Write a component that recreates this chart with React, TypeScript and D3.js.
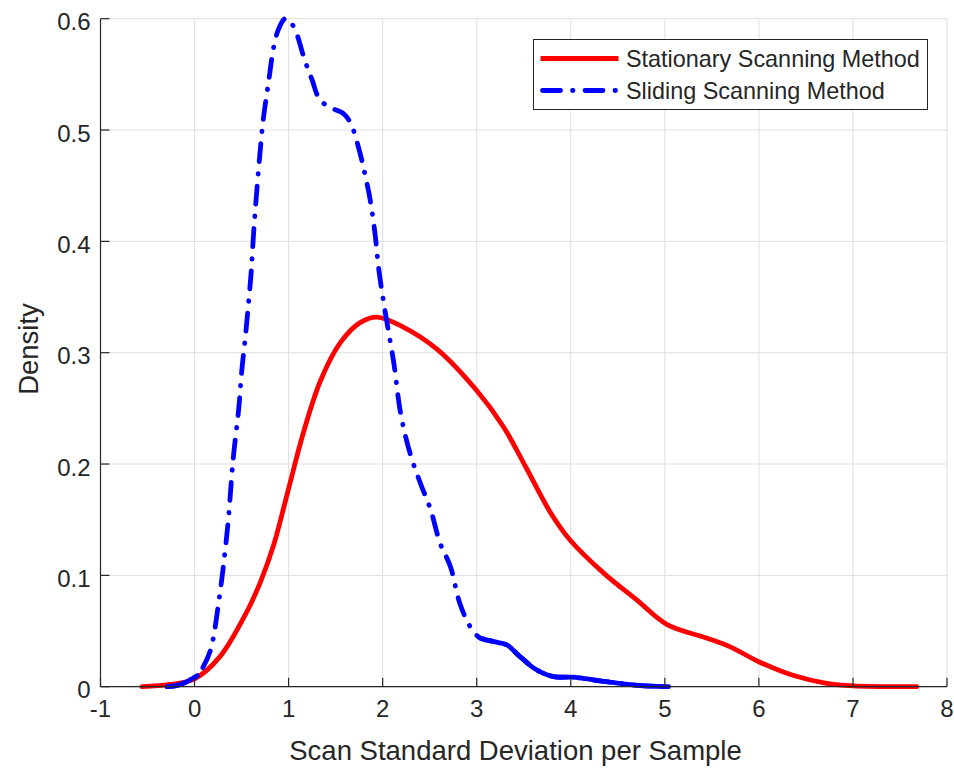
import React from "react";
import * as d3 from "d3";

// Kernel density estimates of scan standard deviation per sample
const stationaryX = [-0.56, -0.26, 0, 0.27, 0.56, 0.7, 0.84, 1.0, 1.16, 1.34, 1.55, 1.76, 1.94, 2.22, 2.58, 3.0, 3.28, 3.53, 3.78, 3.99, 4.35, 4.7, 5.02, 5.45, 5.69, 6.01, 6.37, 6.72, 7.0, 7.68];
const stationaryY = [0, 0.002, 0.007, 0.027, 0.068, 0.094, 0.127, 0.178, 0.229, 0.275, 0.309, 0.327, 0.332, 0.323, 0.303, 0.266, 0.234, 0.196, 0.157, 0.132, 0.102, 0.078, 0.056, 0.0435, 0.036, 0.022, 0.01, 0.003, 0.0007, 0];

const slidingX = [-0.29, -0.15, 0.03, 0.08, 0.17, 0.26, 0.31, 0.36, 0.41, 0.47, 0.5, 0.54, 0.57, 0.6, 0.63, 0.68, 0.73, 0.79, 0.84, 0.89, 0.96, 1.0, 1.07, 1.17, 1.25, 1.32, 1.42, 1.58, 1.66, 1.76, 1.81, 1.87, 1.92, 1.96, 2.03, 2.12, 2.19, 2.29, 2.4, 2.51, 2.61, 2.72, 2.82, 2.93, 3.04, 3.21, 3.32, 3.46, 3.64, 3.82, 4.03, 4.38, 4.74, 5.04];
const slidingY = [0, 0.002, 0.01, 0.016, 0.033, 0.078, 0.111, 0.151, 0.204, 0.25, 0.282, 0.314, 0.341, 0.37, 0.41, 0.464, 0.509, 0.545, 0.574, 0.59, 0.6, 0.599, 0.59, 0.563, 0.545, 0.529, 0.521, 0.515, 0.506, 0.479, 0.461, 0.436, 0.406, 0.374, 0.335, 0.29, 0.246, 0.21, 0.183, 0.159, 0.129, 0.108, 0.075, 0.054, 0.0435, 0.04, 0.0375, 0.027, 0.015, 0.009, 0.0085, 0.0045, 0.001, 0];

const xTicks = [-1, 0, 1, 2, 3, 4, 5, 6, 7, 8];
const yTicks = [0, 0.1, 0.2, 0.3, 0.4, 0.5, 0.6];

const seriesNames = ["Stationary Scanning Method", "Sliding Scanning Method"];
const xLabel = "Scan Standard Deviation per Sample";
const yLabel = "Density";

const W = 954;
const H = 771;
const plot = { left: 100.5, right: 947, top: 18.7, bottom: 686.7 };

const FONT = "'Liberation Sans', Arial, Helvetica, sans-serif";
const TEXT = "#262626";
const GRID = "#dfdfdf";
const RED = "#ff0000";
const BLUE = "#0000ff";
const LW = 4.8;
const DASHDOT = "18 12 0.5 12";
// the sliding curve is drawn densely (nearly solid) where its samples crowd together
const denseBelow = 0.06;
const denseAbove = 3.02;

export default function App() {
  const x = d3.scaleLinear().domain([-1, 8]).range([plot.left, plot.right]);
  const y = d3.scaleLinear().domain([0, 0.6]).range([plot.bottom, plot.top]);

  const line = d3
    .line<[number, number]>()
    .x((d) => x(d[0]))
    .y((d) => y(d[1]))
    .curve(d3.curveCatmullRom.alpha(0.5));

  const stationary: [number, number][] = stationaryX.map((v, i) => [v, stationaryY[i]]);
  const sliding: [number, number][] = slidingX.map((v, i) => [v, slidingY[i]]);
  const slidingHead = sliding.filter((d) => d[0] <= denseBelow);
  const slidingTail = sliding.filter((d) => d[0] >= denseAbove);

  const legX = 533.5;
  const legY = 39.5;
  const legW = 394;
  const legH = 70;

  return (
    <svg
      width={W}
      height={H}
      style={{ position: "absolute", left: 0, top: 0, background: "#fff" }}
      fontFamily={FONT}
    >
      <rect x={0} y={0} width={W} height={H} fill="#fff" />
      {/* grid */}
      <g stroke={GRID} strokeWidth={1}>
        {xTicks.map((t) => (
          <line key={"gx" + t} x1={x(t)} x2={x(t)} y1={plot.top} y2={plot.bottom} />
        ))}
        {yTicks.map((t) => (
          <line key={"gy" + t} x1={plot.left} x2={plot.right} y1={y(t)} y2={y(t)} />
        ))}
      </g>

      {/* curves */}
      <path d={line(stationary) || ""} fill="none" stroke={RED} strokeWidth={LW} strokeLinejoin="round" strokeLinecap="round" />
      <path d={line(sliding) || ""} fill="none" stroke={BLUE} strokeWidth={LW} strokeDasharray={DASHDOT} strokeLinecap="round" />
      <path d={line(slidingHead) || ""} fill="none" stroke={BLUE} strokeWidth={LW} strokeLinecap="round" strokeDasharray="3 1.5" />
      <path d={line(slidingTail) || ""} fill="none" stroke={BLUE} strokeWidth={LW} strokeLinecap="round" strokeDasharray="3 1.5" />

      {/* axes */}
      <g stroke={TEXT} strokeWidth={1.2} fill="none">
        <line x1={plot.left} x2={plot.left} y1={plot.top} y2={plot.bottom} />
        <line x1={plot.left} x2={plot.right} y1={plot.bottom} y2={plot.bottom} />
        {xTicks.map((t) => (
          <line key={"tx" + t} x1={x(t)} x2={x(t)} y1={plot.bottom} y2={plot.bottom - 9} />
        ))}
        {yTicks.map((t) => (
          <line key={"ty" + t} x1={plot.left} x2={plot.left + 9} y1={y(t)} y2={y(t)} />
        ))}
      </g>

      <g fill={TEXT} fontSize={24}>
        {xTicks.map((t) => (
          <text key={"lx" + t} x={x(t)} y={plot.bottom + 30} textAnchor="middle">
            {String(t)}
          </text>
        ))}
        {yTicks.map((t) => (
          <text key={"ly" + t} x={plot.left - 10} y={y(t) + 11.5} textAnchor="end">
            {String(t)}
          </text>
        ))}
      </g>

      <text x={515.5} y={760} textAnchor="middle" fontSize={27.5} fill={TEXT}>
        {xLabel}
      </text>
      <text
        transform={`translate(38,349) rotate(-90)`}
        textAnchor="middle"
        fontSize={27.5}
        fill={TEXT}
      >
        {yLabel}
      </text>

      {/* legend */}
      <rect x={legX} y={legY} width={legW} height={legH} fill="#fff" stroke={TEXT} strokeWidth={1} />
      <line x1={legX + 7} x2={legX + 85} y1={legY + 19} y2={legY + 19} stroke={RED} strokeWidth={LW} />
      <line x1={legX + 9} x2={legX + 83} y1={legY + 51} y2={legY + 51} stroke={BLUE} strokeWidth={LW} strokeDasharray={DASHDOT} strokeLinecap="round" />
      <text x={legX + 92.5} y={legY + 27.2} fontSize={23.4} fill={TEXT}>
        {seriesNames[0]}
      </text>
      <text x={legX + 92.5} y={legY + 59.6} fontSize={23.4} fill={TEXT}>
        {seriesNames[1]}
      </text>
    </svg>
  );
}
